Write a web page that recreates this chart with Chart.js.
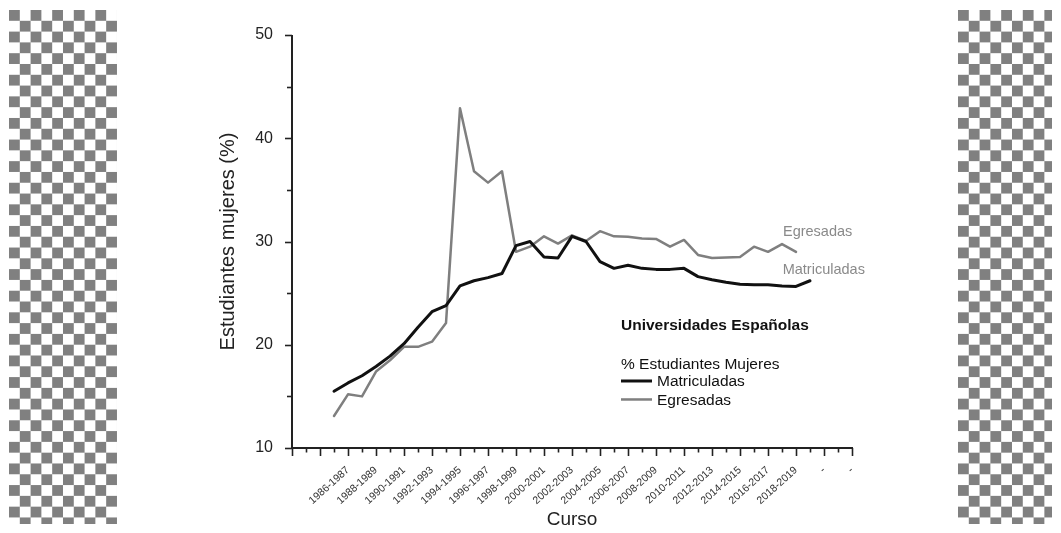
<!DOCTYPE html>
<html lang="es">
<head>
<meta charset="utf-8">
<title>Estudiantes mujeres en las universidades españolas</title>
<script src="https://cdn.jsdelivr.net/npm/chart.js@4/dist/chart.umd.min.js"></script>
<style>
    html, body { margin: 0; padding: 0; background: #fff; }
    #wrap { position: relative; width: 1061px; height: 533px; overflow: hidden; }
    .checker {
        position: absolute;
        top: 10px;
        height: 514px;
        background-color: #fff;
        background-image: conic-gradient(#fff 25%, #808080 0 50%, #fff 0 75%, #808080 0);
        background-size: 21.6px 21.6px;
        filter: blur(0.6px);
    }
    #checkLeft { left: 9px; width: 108px; }
    #checkRight { left: 958px; width: 94px; }
    canvas { position: absolute; left: 0; top: 0; }
</style>
</head>
<body>
<div id="wrap">
    <div class="checker" id="checkLeft"></div>
    <div class="checker" id="checkRight"></div>
    <canvas id="chart" width="1061" height="533"></canvas>
</div>
<script>
// Cursos académicos (cada punto se sitúa en el año de inicio del curso)
const cursos = [
    '1985-1986', '1986-1987', '1987-1988', '1988-1989', '1989-1990',
    '1990-1991', '1991-1992', '1992-1993', '1993-1994', '1994-1995',
    '1995-1996', '1996-1997', '1997-1998', '1998-1999', '1999-2000',
    '2000-2001', '2001-2002', '2002-2003', '2003-2004', '2004-2005',
    '2005-2006', '2006-2007', '2007-2008', '2008-2009', '2009-2010',
    '2010-2011', '2011-2012', '2012-2013', '2013-2014', '2014-2015',
    '2015-2016', '2016-2017', '2017-2018', '2018-2019', '2019-2020'
];

// % de mujeres entre los estudiantes matriculados
const matriculadas = [
    15.5, 16.3, 17.0, 17.9, 18.9, 20.1, 21.7, 23.2, 23.8, 25.7,
    26.2, 26.5, 26.9, 29.6, 30.0, 28.5, 28.4, 30.5, 30.0, 28.05,
    27.4, 27.7, 27.4, 27.3, 27.3, 27.4, 26.6, 26.3, 26.05, 25.85,
    25.8, 25.8, 25.7, 25.65, 26.2
];

// % de mujeres entre los estudiantes egresados (sin dato del último curso)
const egresadas = [
    13.1, 15.2, 15.0, 17.4, 18.5, 19.8, 19.8, 20.3, 22.1, 42.9,
    36.8, 35.7, 36.8, 29.0, 29.5, 30.5, 29.8, 30.6, 30.05, 31.0,
    30.5, 30.45, 30.3, 30.25, 29.5, 30.15, 28.7, 28.4, 28.45, 28.5,
    29.5, 29.0, 29.75, 29.0
];

// Rótulos del eje X, uno cada dos cursos
const cursoTicks = [
    '1986-1987', '1988-1989', '1990-1991', '1992-1993', '1994-1995',
    '1996-1997', '1998-1999', '2000-2001', '2002-2003', '2004-2005',
    '2006-2007', '2008-2009', '2010-2011', '2012-2013', '2014-2015',
    '2016-2017', '2018-2019', '-', '-'
];

const FONT = '"Liberation Sans", Arial, Helvetica, sans-serif';
const COLOR_MAT = '#111111';
const COLOR_EGR = '#7f7f7f';

const inicioCurso = c => parseInt(c, 10);
const primerTick = inicioCurso(cursoTicks[0]);

const serie = valores => valores.map((v, i) => ({ x: inicioCurso(cursos[i]), y: v }));

// Ejes con marcas mayores y menores, dibujados a mano
const axisDecor = {
    id: 'axisDecor',
    afterDraw(chart) {
        const { ctx, chartArea: area, scales } = chart;
        const xs = scales.x, ys = scales.y;
        ctx.save();
        ctx.strokeStyle = '#222';
        ctx.lineCap = 'butt';

        ctx.lineWidth = 1.6;
        xs.ticks.forEach(t => {
            const px = Math.round(xs.getPixelForValue(t.value)) + 0.5;
            const len = (t.value - primerTick) % 2 === 0 ? 8 : 4.5;
            ctx.beginPath();
            ctx.moveTo(px, area.bottom);
            ctx.lineTo(px, area.bottom + len);
            ctx.stroke();
        });
        ys.ticks.forEach(t => {
            const py = Math.round(ys.getPixelForValue(t.value)) + 0.5;
            const len = t.value % 10 === 0 ? 7 : 5;
            ctx.beginPath();
            ctx.moveTo(area.left - len, py);
            ctx.lineTo(area.left, py);
            ctx.stroke();
        });

        ctx.lineWidth = 2;
        ctx.beginPath();
        ctx.moveTo(area.left, area.top);
        ctx.lineTo(area.left, area.bottom);
        ctx.lineTo(area.right + 1, area.bottom);
        ctx.stroke();
        ctx.restore();
    }
};

// Textos sobre el gráfico, anclados en coordenadas de datos
const notas = [
    { text: 'Egresadas', x: 2017.07, y: 30.92, font: '14.5px ' + FONT, color: '#8a8a8a' },
    { text: 'Matriculadas', x: 2017.05, y: 27.24, font: '14.5px ' + FONT, color: '#8a8a8a' },
    { text: 'Universidades Españolas', x: 2005.5, y: 21.86, font: 'bold 15.5px ' + FONT, color: '#111' },
    { text: '% Estudiantes Mujeres', x: 2005.5, y: 18.09, font: '15.5px ' + FONT, color: '#111' }
];
const leyenda = [
    { dataset: 0, y: 16.49 },
    { dataset: 1, y: 14.70 }
];

const notesPlugin = {
    id: 'notes',
    afterDraw(chart) {
        const { ctx, scales } = chart;
        const xs = scales.x, ys = scales.y;
        ctx.save();
        ctx.textBaseline = 'middle';
        ctx.textAlign = 'left';
        notas.forEach(n => {
            ctx.font = n.font;
            ctx.fillStyle = n.color;
            ctx.fillText(n.text, xs.getPixelForValue(n.x), ys.getPixelForValue(n.y));
        });

        const x0 = xs.getPixelForValue(2005.5);
        leyenda.forEach(item => {
            const ds = chart.data.datasets[item.dataset];
            const py = ys.getPixelForValue(item.y);
            ctx.strokeStyle = ds.borderColor;
            ctx.lineWidth = ds.borderWidth;
            ctx.beginPath();
            ctx.moveTo(x0, py);
            ctx.lineTo(x0 + 31, py);
            ctx.stroke();
            ctx.font = '15.5px ' + FONT;
            ctx.fillStyle = '#111';
            ctx.fillText(ds.label, x0 + 36, py + 1);
        });
        ctx.restore();
    }
};

Chart.defaults.font.family = FONT;

new Chart(document.getElementById('chart'), {
    type: 'line',
    data: {
        datasets: [
            {
                label: 'Matriculadas',
                data: serie(matriculadas),
                borderColor: COLOR_MAT,
                borderWidth: 3,
                pointRadius: 0,
                tension: 0,
                borderJoinStyle: 'round',
                borderCapStyle: 'round'
            },
            {
                label: 'Egresadas',
                data: serie(egresadas),
                borderColor: COLOR_EGR,
                borderWidth: 2.5,
                pointRadius: 0,
                tension: 0,
                borderJoinStyle: 'round',
                borderCapStyle: 'round'
            }
        ]
    },
    options: {
        responsive: false,
        animation: false,
        events: [],
        layout: { padding: { left: 0, top: 35, right: 209, bottom: 0 } },
        plugins: {
            legend: { display: false },
            tooltip: { enabled: false }
        },
        scales: {
            x: {
                type: 'linear',
                min: 1982,
                max: 2022,
                afterFit: s => { s.height = 85; },
                grid: { display: false, drawTicks: true, tickLength: 8 },
                border: { display: false },
                ticks: {
                    stepSize: 1,
                    autoSkip: false,
                    minRotation: 42,
                    maxRotation: 42,
                    padding: 8,
                    color: '#333',
                    font: { size: 10.5 },
                    callback: value => {
                        const i = (value - primerTick) / 2;
                        return Number.isInteger(i) && i >= 0 && i < cursoTicks.length ? cursoTicks[i] : '';
                    }
                },
                title: {
                    display: true,
                    text: 'Curso',
                    color: '#222',
                    font: { size: 19 },
                    padding: { top: 0, bottom: 2 }
                }
            },
            y: {
                min: 10,
                max: 50,
                afterFit: s => { s.width = 292; },
                grid: { display: false, drawTicks: true, tickLength: 8 },
                border: { display: false },
                ticks: {
                    stepSize: 5,
                    padding: 11,
                    color: '#222',
                    font: { size: 16 },
                    callback: value => (value % 10 === 0 ? value : '')
                },
                title: {
                    display: true,
                    text: 'Estudiantes mujeres (%)',
                    color: '#222',
                    font: { size: 20 },
                    padding: { top: 216, bottom: 0 }
                }
            }
        }
    },
    plugins: [axisDecor, notesPlugin]
});
</script>
</body>
</html>
